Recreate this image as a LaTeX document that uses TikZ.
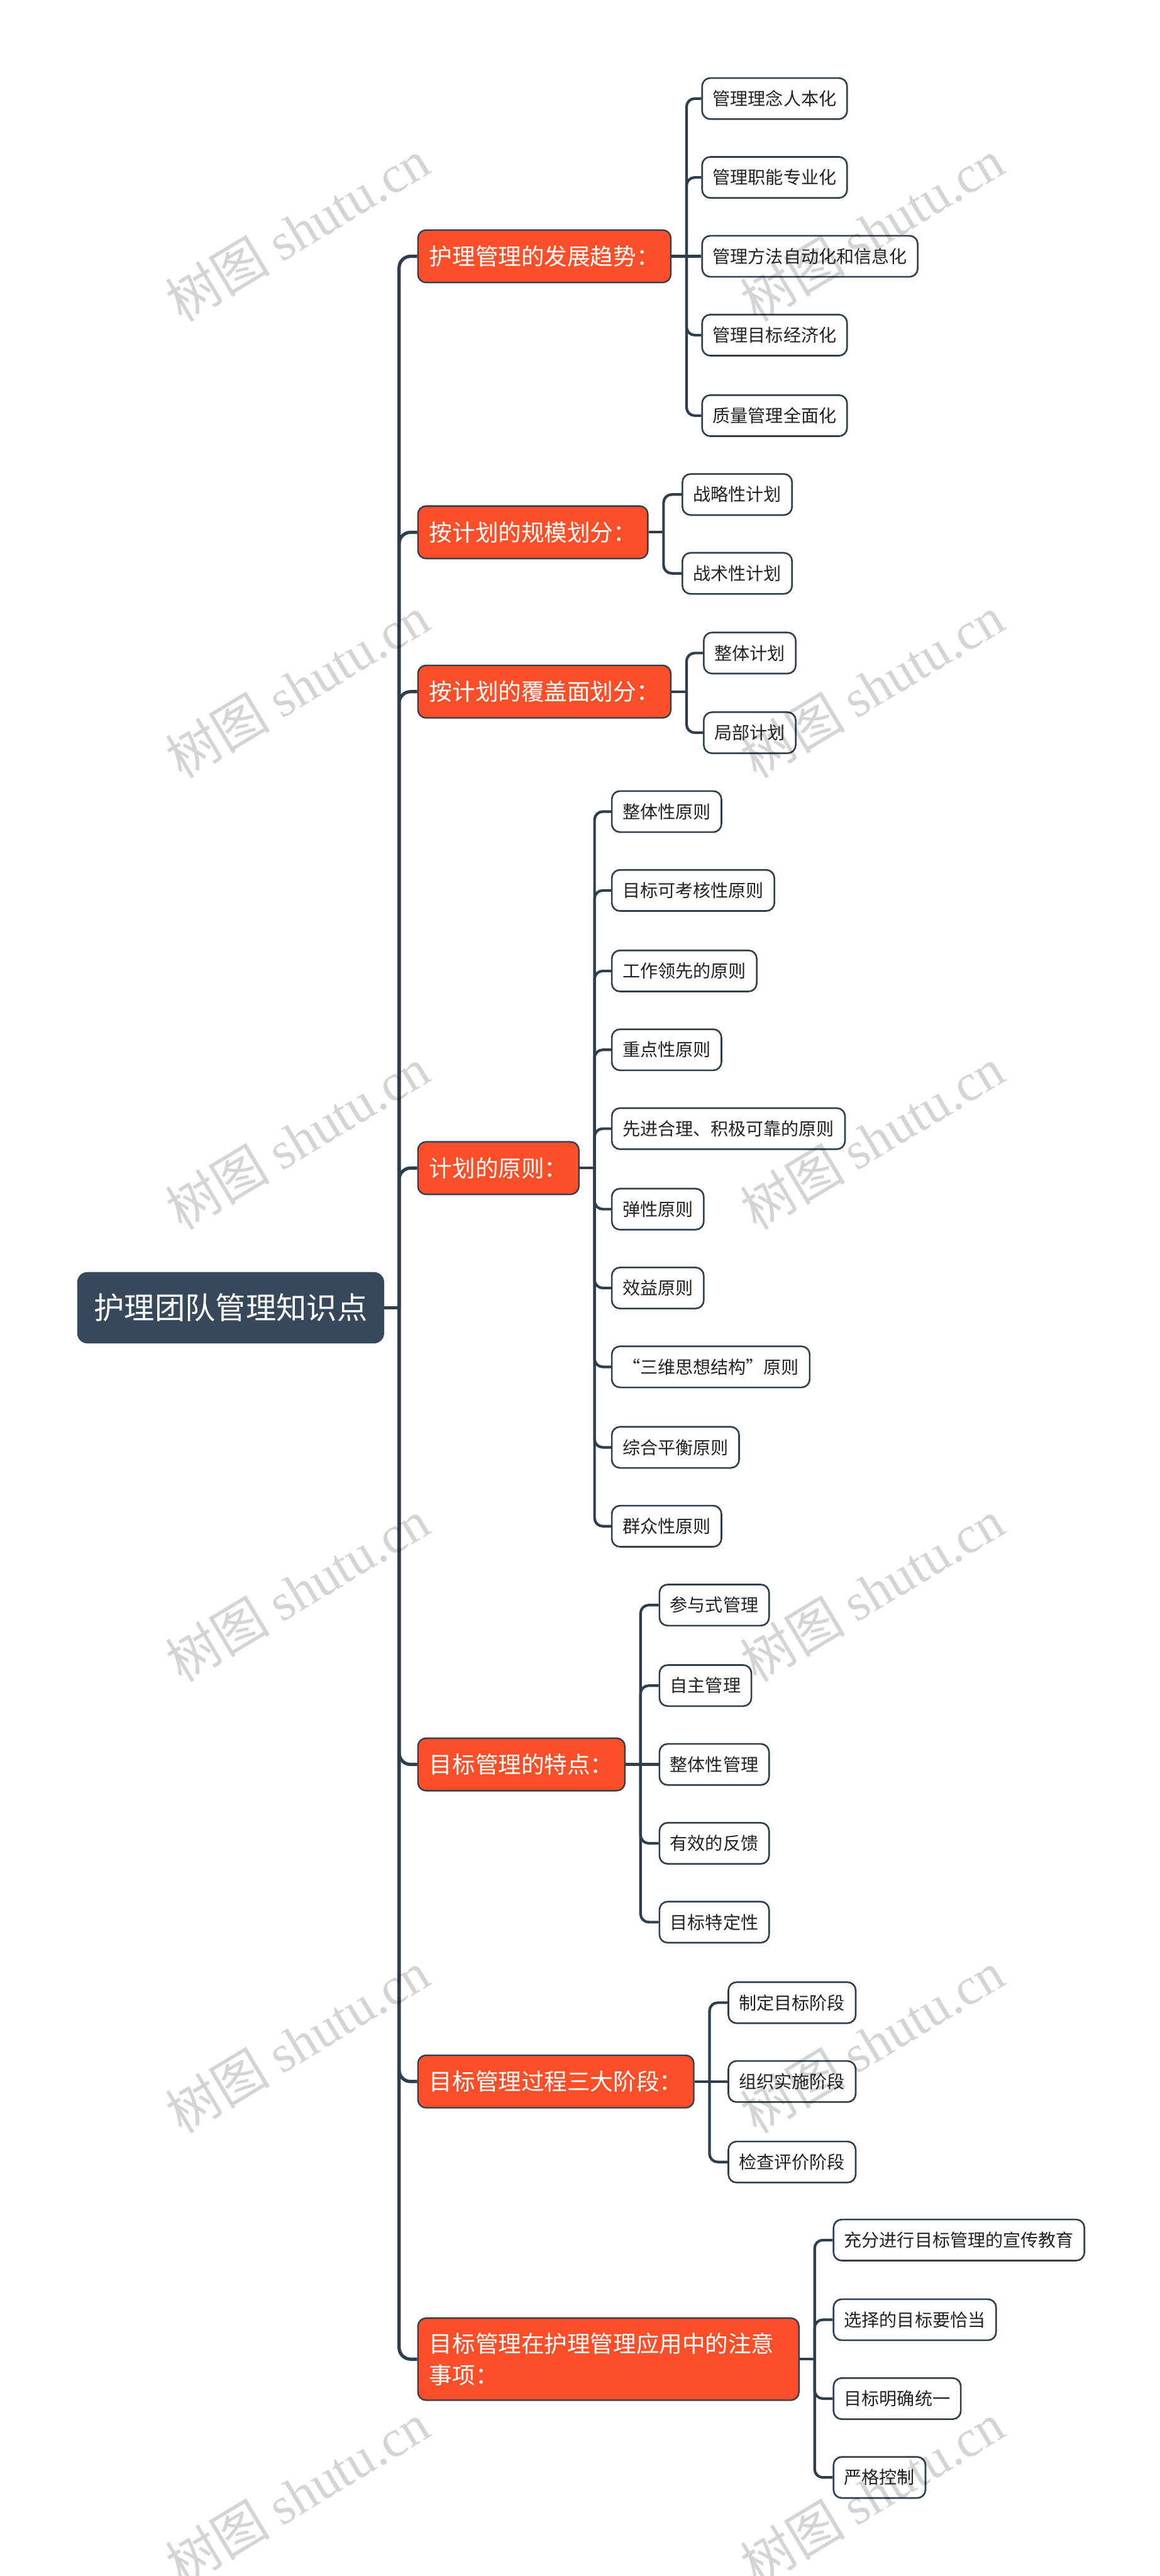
\documentclass[tikz,border=0pt]{standalone}
\usepackage{fontspec}
\setmainfont{Noto Sans CJK SC}
\newfontfamily\wmlat{Liberation Serif}
\usetikzlibrary{calc}
\definecolor{rootc}{HTML}{364859}
\definecolor{mainc}{HTML}{FB4F2A}
\definecolor{linec}{HTML}{2F3E4C}
\definecolor{leaftext}{HTML}{222222}
\begin{document}
\begin{tikzpicture}[x=1pt,y=-1pt,
  rootbox/.style={draw=rootc, fill=rootc, rounded corners=6pt, text=white,
    font=\fontsize{18.5}{22}\selectfont, minimum height=43pt, inner xsep=10pt,
    inner ysep=0pt, anchor=west, text height=16.3pt, text depth=2.2pt},
  mainbase/.style={draw=linec, line width=0.9pt, fill=mainc, rounded corners=5pt,
    text=white, font=\fontsize{14}{19}\selectfont, inner xsep=7pt, inner ysep=0pt, anchor=west},
  mainbox/.style={mainbase, minimum height=32pt, text height=12.3pt, text depth=1.7pt},
  leafbox/.style={draw=linec, line width=1pt, fill=white, rounded corners=5pt,
    text=leaftext, font=\fontsize{10.75}{13}\selectfont, minimum height=25pt,
    inner xsep=6.5pt, inner ysep=0pt, anchor=west, text height=9.46pt, text depth=1.29pt},
  trunk/.style={draw=linec, line width=2pt, rounded corners=7pt},
  twig/.style={draw=linec, line width=1.6pt, rounded corners=5pt},
  wm/.style={text=black, text opacity=0.17, rotate=31, inner sep=0pt,
    font=\fontsize{32}{36}\selectfont}
]
\useasboundingbox (0,0) rectangle (706,1568);
\fill[white] (0,0) rectangle (706,1568);

% root
\node[rootbox] (root) at (47,796) {护理团队管理知识点};

% main branches
\node[mainbox] (b1) at (254,156) {护理管理的发展趋势：};
\node[mainbox] (b2) at (254,324) {按计划的规模划分：};
\node[mainbox] (b3) at (254,421) {按计划的覆盖面划分：};
\node[mainbox] (b4) at (254,711) {计划的原则：};
\node[mainbox] (b5) at (254,1074) {目标管理的特点：};
\node[mainbox] (b6) at (254,1267) {目标管理过程三大阶段：};
\node[mainbase, minimum height=50pt, text width=218pt, align=left] (b7) at (254,1436)
  {目标管理在护理管理应用中的注意\\事项：};

% leaves
\node[leafbox] (l11) at (427,60) {管理理念人本化};
\node[leafbox] (l12) at (427,108) {管理职能专业化};
\node[leafbox] (l13) at (427,156) {管理方法自动化和信息化};
\node[leafbox] (l14) at (427,204) {管理目标经济化};
\node[leafbox] (l15) at (427,253) {质量管理全面化};

\node[leafbox] (l21) at (415,301) {战略性计划};
\node[leafbox] (l22) at (415,349) {战术性计划};

\node[leafbox] (l31) at (428,397.5) {整体计划};
\node[leafbox] (l32) at (428,446) {局部计划};

\node[leafbox] (l41) at (372,494) {整体性原则};
\node[leafbox] (l42) at (372,542) {目标可考核性原则};
\node[leafbox] (l43) at (372,591) {工作领先的原则};
\node[leafbox] (l44) at (372,639) {重点性原则};
\node[leafbox] (l45) at (372,687) {先进合理、积极可靠的原则};
\node[leafbox] (l46) at (372,736) {弹性原则};
\node[leafbox] (l47) at (372,784) {效益原则};
\node[leafbox] (l48) at (372,832) {\makebox[10.75pt][r]{“}三维思想结构\makebox[10.75pt][l]{”}原则};
\node[leafbox] (l49) at (372,881) {综合平衡原则};
\node[leafbox] (l410) at (372,929) {群众性原则};

\node[leafbox] (l51) at (401,977) {参与式管理};
\node[leafbox] (l52) at (401,1026) {自主管理};
\node[leafbox] (l53) at (401,1074) {整体性管理};
\node[leafbox] (l54) at (401,1122) {有效的反馈};
\node[leafbox] (l55) at (401,1170) {目标特定性};

\node[leafbox] (l61) at (443,1219) {制定目标阶段};
\node[leafbox] (l62) at (443,1267) {组织实施阶段};
\node[leafbox] (l63) at (443,1316) {检查评价阶段};

\node[leafbox] (l71) at (507,1363.5) {充分进行目标管理的宣传教育};
\node[leafbox] (l72) at (507,1412) {选择的目标要恰当};
\node[leafbox] (l73) at (507,1460) {目标明确统一};
\node[leafbox] (l74) at (507,1508) {严格控制};

% trunk connectors
\coordinate (tr) at (243,796);
\draw[trunk] (root.east) -- (tr);
\foreach \b in {b1,b2,b3,b4,b5,b6,b7} \draw[trunk] (tr) |- (\b.west);

% junctions
\coordinate (j1) at (418,156);
\coordinate (j2) at (404,324);
\coordinate (j3) at (418,421);
\coordinate (j4) at (362,711);
\coordinate (j5) at (390,1074);
\coordinate (j6) at (432,1267);
\coordinate (j7) at (496,1436);

\draw[twig] (b1.east) -- (j1);
\draw[twig] (j1) -- (l13.west);
\foreach \l in {l11,l12,l14,l15} \draw[twig] (j1) |- (\l.west);

\draw[twig] (b2.east) -- (j2);
\foreach \l in {l21,l22} \draw[twig] (j2) |- (\l.west);

\draw[twig] (b3.east) -- (j3);
\foreach \l in {l31,l32} \draw[twig] (j3) |- (\l.west);

\draw[twig] (b4.east) -- (j4);
\foreach \l in {l41,l42,l43,l44,l45,l46,l47,l48,l49,l410} \draw[twig] (j4) |- (\l.west);

\draw[twig] (b5.east) -- (j5);
\draw[twig] (j5) -- (l53.west);
\foreach \l in {l51,l52,l54,l55} \draw[twig] (j5) |- (\l.west);

\draw[twig] (b6.east) -- (j6);
\draw[twig] (j6) -- (l62.west);
\foreach \l in {l61,l63} \draw[twig] (j6) |- (\l.west);

\draw[twig] (b7.east) -- (j7);
\foreach \l in {l71,l72,l73,l74} \draw[twig] (j7) |- (\l.west);

% watermarks
\node[wm] (w1) at (181,140) {树图 {\wmlat shutu.cn}};
\node[wm] (w2) at (531,140) {树图 {\wmlat shutu.cn}};
\node[wm] (w3) at (181,418) {树图 {\wmlat shutu.cn}};
\node[wm] (w4) at (531,418) {树图 {\wmlat shutu.cn}};
\node[wm] (w5) at (181,693) {树图 {\wmlat shutu.cn}};
\node[wm] (w6) at (531,693) {树图 {\wmlat shutu.cn}};
\node[wm] (w7) at (181,968) {树图 {\wmlat shutu.cn}};
\node[wm] (w8) at (531,968) {树图 {\wmlat shutu.cn}};
\node[wm] (w9) at (181,1243) {树图 {\wmlat shutu.cn}};
\node[wm] (w10) at (531,1243) {树图 {\wmlat shutu.cn}};
\node[wm] (w11) at (181,1518) {树图 {\wmlat shutu.cn}};
\node[wm] (w12) at (531,1518) {树图 {\wmlat shutu.cn}};
\end{tikzpicture}
\end{document}
